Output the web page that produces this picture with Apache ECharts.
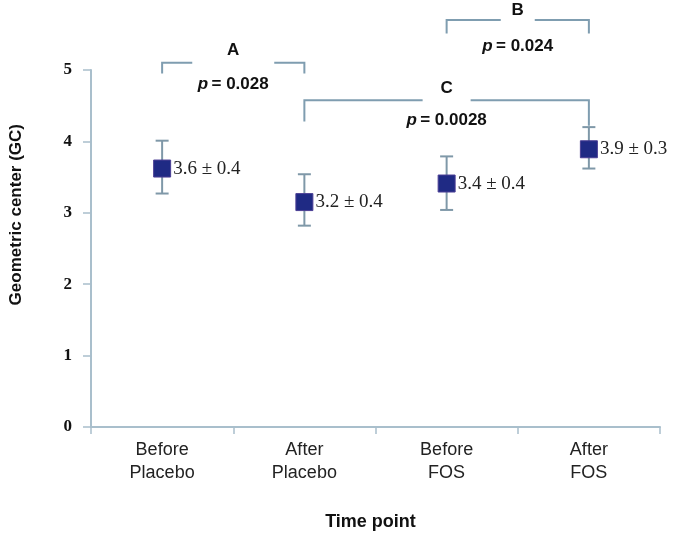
<!DOCTYPE html>
<html>
<head>
<meta charset="utf-8">
<script src="https://cdn.jsdelivr.net/npm/echarts@6/dist/echarts.min.js"></script>
<style>html,body{margin:0;padding:0;background:#fff}#c{width:674px;height:536px}</style>
</head>
<body>
<div id="c"></div>
<script>
var categories = ['Before\nPlacebo', 'After\nPlacebo', 'Before\nFOS', 'After\nFOS'];
var means = [3.62, 3.15, 3.41, 3.89];
var lower = [3.27, 2.82, 3.04, 3.62];
var upper = [4.01, 3.54, 3.79, 4.20];
var valueLabels = ['3.6 ± 0.4', '3.2 ± 0.4', '3.4 ± 0.4', '3.9 ± 0.3'];
var yTicks = [0, 1, 2, 3, 4, 5];

// significance brackets (A, C, B)
var bracketFrom = [0, 1, 2.23];
var bracketTo = [1, 3, 3];
var bracketTop = [5.10, 4.575, 5.70];
var bracketLeftEnd = [4.95, 4.28, 5.51];
var bracketRightEnd = [4.95, 4.22, 5.51];
var bracketLetter = ['A', 'C', 'B'];
var bracketLetterY = [5.27, 4.75, 5.83];
var bracketP = ['0.028', '0.0028', '0.024'];
var bracketPY = [4.80, 4.30, 5.33];

var SANS = '"Liberation Sans", Arial, sans-serif';
var SERIF = '"Liberation Serif", "Times New Roman", serif';
var AXIS_COLOR = '#a9bfcc';
var BR_COLOR = '#7f9db0';

var chart = echarts.init(document.getElementById('c'), null, {renderer: 'canvas'});

var errData = categories.map(function (c, i) { return [i, lower[i], upper[i]]; });
var ptData = categories.map(function (c, i) { return [i, means[i]]; });
var brData = bracketFrom.map(function (f, i) {
  return [f, bracketTo[i], bracketTop[i], bracketLeftEnd[i], bracketRightEnd[i], bracketLetterY[i], bracketPY[i], i];
});

var option = {
  animation: false,
  backgroundColor: '#fff',
  grid: {left: 91, right: 14, top: 70, bottom: 100, containLabel: false},
  xAxis: {
    type: 'category',
    data: categories,
    boundaryGap: true,
    axisLine: {lineStyle: {color: AXIS_COLOR, width: 2}},
    axisTick: {show: true, length: 7, lineStyle: {color: AXIS_COLOR, width: 1.5}},
    axisLabel: {color: '#222', fontFamily: SANS, fontSize: 18, lineHeight: 23, margin: 12},
    name: 'Time point',
    nameLocation: 'middle',
    nameGap: 86,
    nameTextStyle: {color: '#111', fontFamily: SANS, fontSize: 18, fontWeight: 'bold', padding: [0, 10, 0, 0]},
    splitLine: {show: false}
  },
  yAxis: {
    type: 'value',
    min: 0, max: 5, interval: 1,
    axisLine: {show: true, lineStyle: {color: AXIS_COLOR, width: 2}},
    axisTick: {show: true, length: 8, lineStyle: {color: AXIS_COLOR, width: 1.5}},
    axisLabel: {color: '#111', fontFamily: SERIF, fontSize: 17, fontWeight: 'bold', margin: 19,
      formatter: function (v) { return yTicks.indexOf(v) >= 0 ? String(v) : ''; }},
    splitLine: {show: false}
  },
  graphic: [{
    type: 'text',
    left: 8,
    top: 124,
    rotation: Math.PI / 2,
    style: {text: 'Geometric center (GC)', fill: '#111', font: 'bold 17px ' + SANS}
  }],
  series: [
    {
      type: 'custom',
      name: 'err',
      data: errData,
      z: 2,
      renderItem: function (params, api) {
        var x = api.value(0);
        var lo = api.coord([x, api.value(1)]);
        var hi = api.coord([x, api.value(2)]);
        var hw = 6.5;
        var st = {stroke: '#7f98a8', lineWidth: 2};
        return {type: 'group', children: [
          {type: 'line', shape: {x1: lo[0], y1: lo[1], x2: hi[0], y2: hi[1]}, style: st},
          {type: 'line', shape: {x1: lo[0] - hw, y1: lo[1], x2: lo[0] + hw, y2: lo[1]}, style: st},
          {type: 'line', shape: {x1: hi[0] - hw, y1: hi[1], x2: hi[0] + hw, y2: hi[1]}, style: st}
        ]};
      }
    },
    {
      type: 'scatter',
      data: ptData,
      symbol: 'rect',
      symbolSize: 17,
      z: 3,
      itemStyle: {color: '#1f2a84', borderColor: '#4b3f95', borderWidth: 1, opacity: 1},
      label: {
        show: true, position: 'right', distance: 2,
        fontFamily: SERIF, fontSize: 19, color: '#222',
        formatter: function (p) { return valueLabels[p.dataIndex]; }
      }
    },
    {
      type: 'custom',
      name: 'brackets',
      data: brData,
      clip: false,
      z: 4,
      renderItem: function (params, api) {
        var i = api.value(7);
        var pL = api.coord([api.value(0), api.value(2)]);
        var pR = api.coord([api.value(1), api.value(2)]);
        var yLE = api.coord([api.value(0), api.value(3)])[1];
        var yRE = api.coord([api.value(1), api.value(4)])[1];
        var cx = (pL[0] + pR[0]) / 2;
        var gap = i === 0 ? 41 : (i === 1 ? 24 : 17);
        var yL = api.coord([0, api.value(5)])[1];
        var yP = api.coord([0, api.value(6)])[1];
        var st = {stroke: BR_COLOR, lineWidth: 2, fill: null};
        return {type: 'group', children: [
          {type: 'polyline', shape: {points: [[pL[0], yLE], [pL[0], pL[1]], [cx - gap, pL[1]]]}, style: st},
          {type: 'polyline', shape: {points: [[cx + gap, pR[1]], [pR[0], pR[1]], [pR[0], yRE]]}, style: st},
          {type: 'text', x: cx, y: yL, style: {text: bracketLetter[i], fill: '#111', font: 'bold 17px ' + SANS, textAlign: 'center', textVerticalAlign: 'middle'}},
          {type: 'text', x: cx, y: yP, style: {
            text: '{i|p} {b|= ' + bracketP[i] + '}',
            textAlign: 'center', textVerticalAlign: 'middle',
            rich: {
              i: {font: 'italic bold 17px ' + SANS, fill: '#111'},
              b: {font: 'bold 17px ' + SANS, fill: '#111'}
            }
          }}
        ]};
      }
    }
  ]
};
chart.setOption(option);
</script>
</body>
</html>
